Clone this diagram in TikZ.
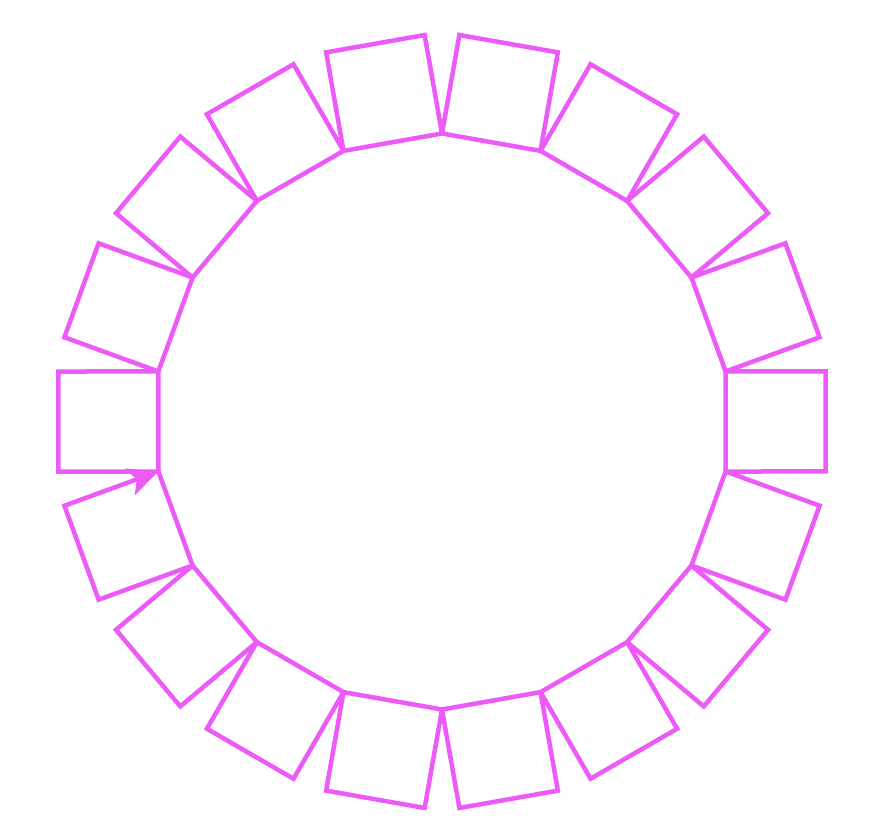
\documentclass[tikz,border=0pt]{standalone}
\usetikzlibrary{arrows.meta}
\definecolor{turtle}{HTML}{EC5BF7}
\begin{document}
\begin{tikzpicture}[x=1pt, y=1pt,
    square/.style={draw=turtle, line width=4.5pt},
    tip/.style={-{Stealth[length=30pt,width=28pt,inset=7pt]}}]
\useasboundingbox (0,0) rectangle (872,838);
\coordinate (centre) at (442,416.5);
\foreach \k in {0,...,17}
  \coordinate (v-\k) at ([shift={(210+20*\k:288)}]centre);
\foreach \k [evaluate=\k as \a using 210+20*\k, evaluate=\k as \n using {int(\k+1)}] in {0,...,16}
  \draw [square] (v-\k) -- (v-\n) -- ++(\a+10:100) -- ++(\a+280:100) -- cycle;
% last square ends with the arrow
\draw [square, tip] (v-17) -- (v-0) -- ++(200:100) -- ++(110:100) -- (v-17);
\end{tikzpicture}
\end{document}
